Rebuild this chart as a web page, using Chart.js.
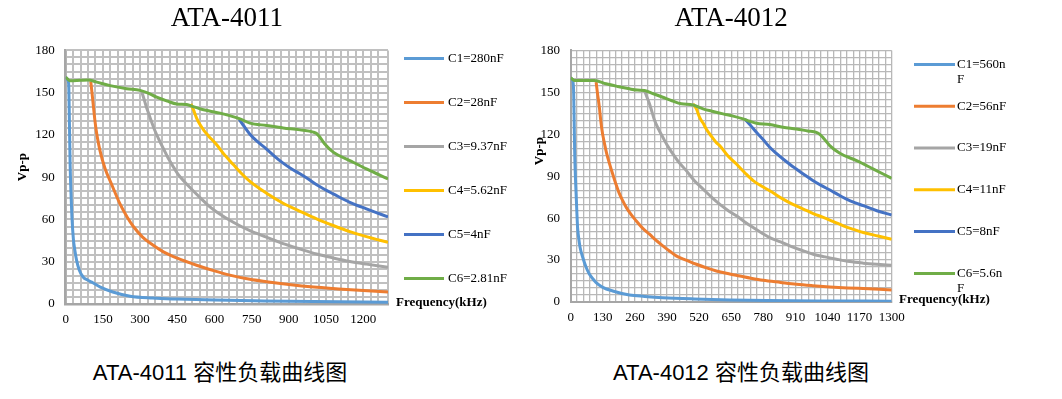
<!DOCTYPE html>
<html>
<head>
<meta charset="utf-8">
<script src="https://cdn.jsdelivr.net/npm/chart.js@4.4.1/dist/chart.umd.min.js"></script>
<style>
  html, body { margin: 0; padding: 0; background: #fff; }
  body { width: 1062px; height: 399px; position: relative; overflow: hidden; }
  canvas { position: absolute; top: 0; }
  .caption {
    position: absolute; top: 360px; line-height: 26px;
    font-size: 22px; font-family: 'Liberation Sans', 'Noto Sans CJK SC', sans-serif;
    color: #000; white-space: nowrap; transform: translateX(-50%);
  }
</style>
</head>
<body>
<canvas id="chartA" width="530" height="339" style="left:0"></canvas>
<canvas id="chartB" width="532" height="339" style="left:530px"></canvas>
<div class="caption" style="left:220px">ATA-4011 容性负载曲线图</div>
<div class="caption" style="left:741px">ATA-4012 容性负载曲线图</div>
<script>
(() => {
    'use strict';

    const colors = ['#5B9BD5', '#ED7D31', '#A5A5A5', '#FFC000', '#4472C4', '#70AD47'];

    // ATA-4011 (frequency in kHz, output in Vp-p)
    const labels4011 = ['C1=280nF', 'C2=28nF', 'C3=9.37nF', 'C4=5.62nF', 'C5=4nF', 'C6=2.81nF'];
    const a1Freq = [0, 8, 12, 14, 16, 18, 21, 25, 31, 37, 44, 55, 71, 88, 105, 140, 190, 260, 350, 450, 600, 800, 1000, 1300];
    const a1Vpp = [161, 159, 156, 140, 118, 98, 80, 62, 46, 38, 31, 24, 19, 17, 15.5, 12, 8.5, 5.5, 4.2, 3.5, 2.8, 2.2, 1.7, 1.2];
    const a2Freq = [101, 106, 112, 118, 125, 138, 159, 185, 219, 250, 273, 310, 350, 394, 450, 528, 600, 662, 743, 810, 900, 1000, 1100, 1200, 1300];
    const a2Vpp = [158, 150, 140, 130, 121, 109, 96, 85, 71, 61, 55, 47.5, 42, 37, 32.5, 27.5, 23.5, 20.5, 17.5, 15.8, 13.8, 12, 10.7, 9.5, 8.5];
    const a3Freq = [305, 315, 325, 335, 345, 360, 378, 395, 412, 432, 452, 478, 505, 545, 578, 612, 676, 743, 810, 877, 945, 1012, 1079, 1146, 1213, 1300];
    const a3Vpp = [151.6, 146, 140, 135, 130, 123, 116, 110, 104, 98, 92.4, 87, 82, 75, 69.5, 65, 58, 52, 47.4, 42.8, 39, 35.5, 32.7, 30.2, 28.3, 26.1];
    const a4Freq = [505, 515, 528, 541, 558, 575, 609, 640, 676, 710, 743, 810, 877, 945, 1012, 1079, 1146, 1213, 1300];
    const a4Vpp = [142, 138, 132, 127.5, 123, 119.5, 113, 106, 99, 92.5, 87, 78.6, 71.5, 65.8, 60.4, 55.7, 51.4, 47.8, 43.8];
    const a5Freq = [700, 720, 743, 775, 810, 845, 877, 910, 945, 980, 1012, 1045, 1079, 1146, 1213, 1300];
    const a5Vpp = [131, 126, 120.5, 115, 110, 104.5, 100, 96, 92.4, 88.5, 84.6, 81.3, 78.2, 72.2, 67.5, 61.8];
    const a6Freq = [0, 17, 60, 91, 125, 179, 246, 300, 335, 367, 410, 448, 488, 515, 541, 580, 622, 665, 703, 743, 810, 877, 945, 999, 1012, 1025, 1045, 1079, 1146, 1213, 1300];
    const a6Vpp = [161, 158.5, 158.8, 159, 157.5, 155, 152.8, 151.6, 149.5, 146.8, 144, 142, 141.6, 140, 138.6, 137, 135.5, 133.5, 131.4, 128.4, 126.7, 125, 123.6, 122, 121, 118.5, 113.5, 107.8, 101.8, 95.9, 88.8];

    // ATA-4012
    const labels4012 = ['C1=560n\nF', 'C2=56nF', 'C3=19nF', 'C4=11nF', 'C5=8nF', 'C6=5.6n\nF'];
    const b1Freq = [0, 8, 12, 14, 16, 19, 22, 25, 28, 33, 38, 49, 62, 76, 90, 103, 130, 170, 238, 300, 373, 500, 644, 800, 1000, 1300];
    const b1Vpp = [160, 158.5, 150, 130, 108, 90, 77, 64, 53, 45, 39, 31.8, 25, 19.8, 16.5, 13.9, 10.5, 7.9, 5, 4, 3.1, 2.2, 1.5, 1.1, 0.8, 0.6];
    const b2Freq = [103, 108, 116, 121, 127, 136, 146, 158, 170, 182, 195, 210, 225, 245, 265, 290, 319, 345, 373, 400, 427, 470, 509, 550, 590, 640, 685, 730, 779, 850, 914, 980, 1050, 1120, 1185, 1250, 1300];
    const b2Vpp = [157.3, 150, 139.4, 131, 122.6, 114, 105.9, 98.5, 91.6, 85, 78.4, 72.7, 67.7, 62.5, 58.1, 53, 48.5, 44.2, 40.2, 36.5, 33, 29.8, 27, 24.4, 22.2, 20.2, 18.6, 17, 15.5, 14, 12.7, 11.7, 10.8, 10.1, 9.6, 9.1, 8.6];
    const b3Freq = [299, 309, 319, 330, 340, 356, 373, 393, 414, 440, 468, 500, 536, 570, 603, 637, 671, 705, 739, 772, 806, 850, 887, 935, 982, 1030, 1077, 1130, 1185, 1240, 1300];
    const b3Vpp = [151.3, 146.5, 141.8, 135.5, 129.8, 123.5, 117.9, 111.5, 105.9, 99.5, 94, 87, 80.8, 75, 70, 65.5, 61.7, 57.3, 53.3, 49.6, 46.1, 43, 40.2, 37, 34.2, 32.3, 30.6, 28.9, 27.8, 27, 26.3];
    const b4Freq = [495, 509, 522, 536, 549, 570, 590, 603, 637, 671, 705, 739, 772, 806, 860, 900, 942, 982, 1023, 1064, 1104, 1145, 1185, 1245, 1300];
    const b4Vpp = [141.8, 138.2, 132, 128, 123.8, 118.5, 114, 111.9, 104.5, 98.7, 92.5, 86.8, 83, 79.6, 73.6, 69.8, 66.5, 63.3, 60.5, 57.5, 54.5, 52, 49.7, 47.2, 44.9];
    const b5Freq = [705, 730, 752, 780, 806, 833, 860, 887, 914, 948, 982, 1016, 1050, 1083, 1117, 1150, 1185, 1240, 1300];
    const b5Vpp = [131, 126, 121.4, 116, 110.7, 106.3, 102.3, 98.6, 95.1, 90.8, 86.8, 83.3, 80.1, 76.8, 73.6, 71.1, 68.9, 65.3, 62.2];
    const b6Freq = [0, 15, 60, 96, 143, 190, 238, 270, 299, 335, 373, 410, 448, 495, 536, 577, 617, 658, 698, 725, 752, 806, 860, 914, 960, 995, 1010, 1023, 1049, 1090, 1158, 1226, 1300];
    const b6Vpp = [160.4, 158.5, 158.5, 158.5, 156.1, 154.2, 152.5, 151.6, 151.3, 149, 146.5, 144, 141.8, 141, 138.2, 136.3, 134.6, 133, 131, 129.3, 127.9, 127, 125, 123.8, 122.4, 121.4, 119.8, 117.4, 111.9, 106.4, 101.1, 95.1, 88.5];

    // legend lines, axis names drawn beside the plot area
    const sideText = {
        id: 'sideText',
        afterDraw(chart, args, o) {
            const {ctx, chartArea} = chart;
            ctx.save();
            ctx.font = '13px "Liberation Serif"';
            ctx.textBaseline = 'middle';
            ctx.textAlign = 'left';
            chart.data.datasets.forEach((ds, i) => {
                const y = chartArea.top + o.legendTop + i * o.legendStep;
                const x0 = chartArea.right + o.legendGap;
                ctx.strokeStyle = ds.borderColor;
                ctx.lineWidth = 3;
                ctx.beginPath();
                ctx.moveTo(x0, y);
                ctx.lineTo(x0 + o.legendLine, y);
                ctx.stroke();
                ctx.fillStyle = '#000';
                ds.label.split('\n').forEach((line, k) => {
                    ctx.fillText(line, x0 + o.legendLine + o.textGap, y + k * 15);
                });
            });
            ctx.font = 'bold 13px "Liberation Serif"';
            ctx.fillText('Frequency(kHz)', chartArea.right + o.xTitleGap, chartArea.bottom + o.xTitleDy);
            ctx.translate(o.yTitleX, chartArea.top + chartArea.height * o.yTitlePos);
            ctx.rotate(-Math.PI / 2);
            ctx.textAlign = 'center';
            ctx.fillText('Vp-p', 0, 0);
            ctx.restore();
        }
    };

    function makeChart(id, title, labels, freqs, vpps, xStep, xLabelStep, look) {
        const datasets = labels.map((label, i) => ({
            label,
            data: freqs[i].map((f, k) => ({x: f, y: vpps[i][k]})),
            borderColor: colors[i],
            backgroundColor: colors[i],
            borderWidth: 3,
            pointRadius: 0,
            fill: false,
            cubicInterpolationMode: 'monotone',
            order: labels.length - i
        }));
        const tickFont = {family: 'Liberation Serif', size: 13};
        return new Chart(document.getElementById(id), {
            type: 'line',
            data: {datasets},
            plugins: [sideText],
            options: {
                responsive: false,
                animation: false,
                events: [],
                layout: {padding: look.padding},
                scales: {
                    x: {
                        type: 'linear',
                        min: 0,
                        max: 1300,
                        grid: {color: look.grid, lineWidth: look.gridWidth, drawTicks: false},
                        border: {color: '#a6a6a6', width: look.axisWidth},
                        ticks: {
                            stepSize: xStep,
                            autoSkip: false,
                            maxRotation: 0,
                            padding: 8,
                            color: '#000',
                            font: tickFont,
                            callback: v => (v % xLabelStep === 0 ? v : '')
                        }
                    },
                    y: {
                        min: 0,
                        max: 180,
                        afterFit: s => { s.width = look.yWidth; },
                        grid: {color: look.grid, lineWidth: look.gridWidth, drawTicks: false},
                        border: {color: '#a6a6a6', width: look.axisWidth},
                        ticks: {
                            stepSize: 5,
                            autoSkip: false,
                            padding: look.yTickPad,
                            color: '#000',
                            font: tickFont,
                            callback: v => (v % 30 === 0 ? v : '')
                        }
                    }
                },
                plugins: {
                    legend: {display: false},
                    tooltip: {enabled: false},
                    title: {
                        display: true,
                        text: title,
                        fullSize: false,
                        color: '#000',
                        font: {family: 'Liberation Serif', size: 27, weight: 'normal'},
                        padding: {top: 3, bottom: 15}
                    },
                    sideText: look.side
                }
            }
        });
    }

    makeChart('chartA', 'ATA-4011', labels4011,
        [a1Freq, a2Freq, a3Freq, a4Freq, a5Freq, a6Freq],
        [a1Vpp, a2Vpp, a3Vpp, a4Vpp, a5Vpp, a6Vpp],
        30, 150, {
            padding: {left: 0, right: 142, top: 0, bottom: 3.4},
            grid: '#c0c0c0', gridWidth: 2, axisWidth: 2.5,
            yWidth: 65.7, yTickPad: 11,
            side: {legendTop: 8, legendStep: 44, legendGap: 16, legendLine: 40, textGap: 4,
                xTitleGap: 8, xTitleDy: -1, yTitleX: 23, yTitlePos: 0.46}
        });

    makeChart('chartB', 'ATA-4012', labels4012,
        [b1Freq, b2Freq, b3Freq, b4Freq, b5Freq, b6Freq],
        [b1Vpp, b2Vpp, b3Vpp, b4Vpp, b5Vpp, b6Vpp],
        26, 130, {
            padding: {left: 0, right: 170.3, top: 0, bottom: 5.4},
            grid: '#b8b8b8', gridWidth: 1.3, axisWidth: 2,
            yWidth: 40.7, yTickPad: 10.7,
            side: {legendTop: 14, legendStep: 41.8, legendGap: 22.3, legendLine: 41, textGap: 2,
                xTitleGap: 7.3, xTitleDy: -2, yTitleX: 9.3, yTitlePos: 0.4}
        });
})();
</script>
</body>
</html>
